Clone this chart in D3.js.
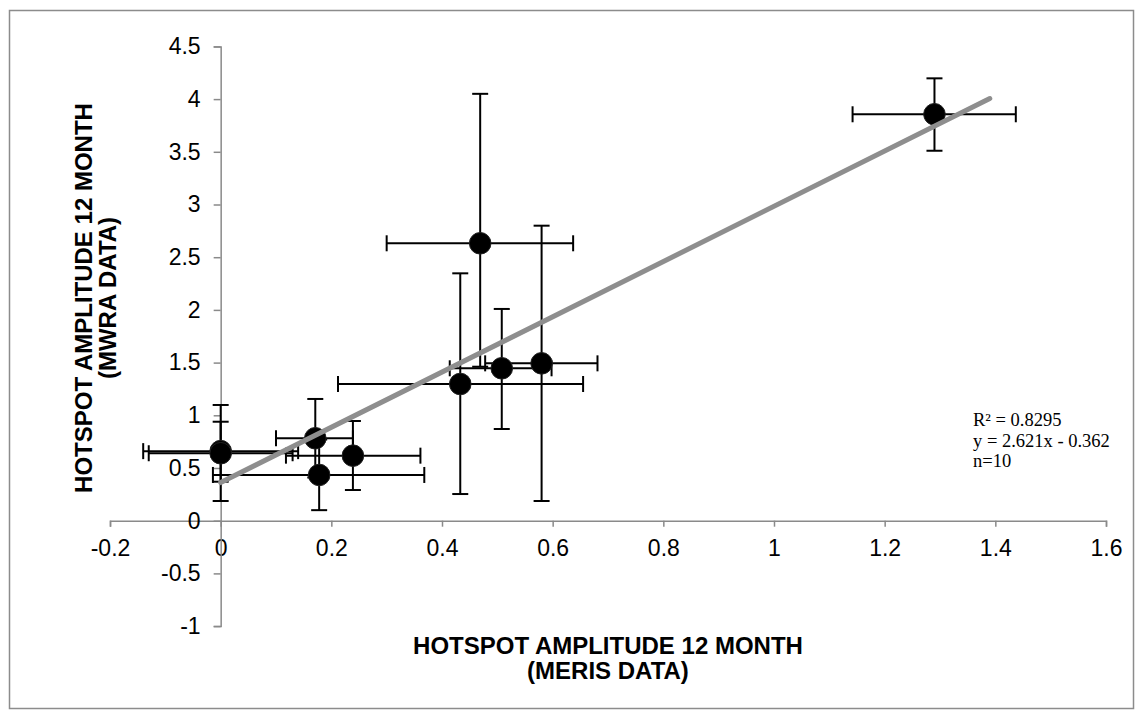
<!DOCTYPE html>
<html><head><meta charset="utf-8">
<script src="https://cdn.jsdelivr.net/npm/d3@7"></script>
<style>body{margin:0;background:#fff}svg{display:block}</style>
</head><body>
<script>
// Data
const pointNames = ["A","B","C","D","E","F1","F2","G","H","I"];
const xValues  = [1.290, 0.469, 0.433, 0.508, 0.580, 0.000, 0.000, 0.171, 0.239, 0.178];
const yValues  = [3.856, 2.632, 1.297, 1.446, 1.493, 0.660, 0.640, 0.782, 0.617, 0.434];
const xLow     = [1.142, 0.300, 0.212, 0.414, 0.478, -0.140, -0.130, 0.100, 0.118, -0.014];
const xHigh    = [1.437, 0.637, 0.655, 0.598, 0.681, 0.140, 0.130, 0.239, 0.361, 0.368];
const yLow     = [3.510, 1.461, 0.253, 0.870, 0.187, 0.187, 0.370, 0.410, 0.291, 0.100];
const yHigh    = [4.197, 4.050, 2.347, 2.009, 2.799, 1.098, 0.939, 1.155, 0.946, 0.770];
const xTicks = [-0.2, 0, 0.2, 0.4, 0.6, 0.8, 1, 1.2, 1.4, 1.6];
const yTicks = [-1, -0.5, 0, 0.5, 1, 1.5, 2, 2.5, 3, 3.5, 4, 4.5];
const trendSlope = 2.621, trendIntercept = 0.362;
const trendX = [0, 1.39];
const annotationLines = ["R\u00b2 = 0.8295", "y = 2.621x - 0.362", "n=10"];
const xTitleLines = ["HOTSPOT AMPLITUDE 12 MONTH", "(MERIS DATA)"];
const yTitleLines = ["HOTSPOT AMPLITUDE 12 MONTH", "(MWRA DATA)"];

const W = 1143, H = 719;
const svg = d3.select("body").append("svg").attr("width", W).attr("height", H);

// chart border
svg.append("rect").attr("x", 9.5).attr("y", 10.5).attr("width", 1124).attr("height", 698)
  .attr("fill", "#fff").attr("stroke", "#8c8c8c").attr("stroke-width", 1.5);

const x = d3.scaleLinear().domain([-0.2, 1.6]).range([110, 1106]);
const y = d3.scaleLinear().domain([-1, 4.5]).range([626.1, 46.4]);

const axisColor = "#8a8a8a";
const font = "'Liberation Sans', Arial, sans-serif";

// X axis at y=0
const gx = svg.append("g").attr("transform", `translate(0,${y(0)})`)
  .call(d3.axisBottom(x).tickValues(xTicks).tickSize(6).tickPadding(13).tickFormat(d => String(d)));
gx.select(".domain").attr("stroke", axisColor).attr("stroke-width", 1.5);
gx.selectAll(".tick line").attr("stroke", axisColor).attr("stroke-width", 1.5);
gx.selectAll(".tick text").attr("fill", "#000").style("font", `23px ${font}`);

// Y axis at x=0
const gy = svg.append("g").attr("transform", `translate(${x(0)},0)`)
  .call(d3.axisLeft(y).tickValues(yTicks).tickSize(7).tickPadding(13).tickFormat(d => String(d)));
gy.select(".domain").attr("stroke", axisColor).attr("stroke-width", 1.5);
gy.selectAll(".tick line").attr("stroke", axisColor).attr("stroke-width", 1.5);
gy.selectAll(".tick text").attr("fill", "#000").style("font", `23px ${font}`);

const pts = pointNames.map((n, i) => ({n, x: xValues[i], y: yValues[i], xl: xLow[i], xh: xHigh[i], yl: yLow[i], yh: yHigh[i]}));
const cap = 8;
const eb = svg.append("g").attr("stroke", "#000").attr("stroke-width", 2).attr("fill", "none");
pts.forEach(p => {
  eb.append("line").attr("x1", x(p.xl)).attr("x2", x(p.xh)).attr("y1", y(p.y)).attr("y2", y(p.y));
  eb.append("line").attr("x1", x(p.xl)).attr("x2", x(p.xl)).attr("y1", y(p.y) - cap).attr("y2", y(p.y) + cap);
  eb.append("line").attr("x1", x(p.xh)).attr("x2", x(p.xh)).attr("y1", y(p.y) - cap).attr("y2", y(p.y) + cap);
  eb.append("line").attr("x1", x(p.x)).attr("x2", x(p.x)).attr("y1", y(p.yl)).attr("y2", y(p.yh));
  eb.append("line").attr("x1", x(p.x) - cap).attr("x2", x(p.x) + cap).attr("y1", y(p.yl)).attr("y2", y(p.yl));
  eb.append("line").attr("x1", x(p.x) - cap).attr("x2", x(p.x) + cap).attr("y1", y(p.yh)).attr("y2", y(p.yh));
});

svg.append("g").selectAll("circle").data(pts).join("circle")
  .attr("cx", d => x(d.x)).attr("cy", d => y(d.y)).attr("r", 10.8)
  .attr("fill", "#000").attr("stroke", "#222").attr("stroke-width", 1);

// trendline
svg.append("line")
  .attr("x1", x(trendX[0])).attr("y1", y(trendSlope * trendX[0] + trendIntercept))
  .attr("x2", x(trendX[1])).attr("y2", y(trendSlope * trendX[1] + trendIntercept))
  .attr("stroke", "#8e8e8e").attr("stroke-width", 5).attr("stroke-linecap", "round");

// annotation
const ann = svg.append("text").style("font", "18.5px 'Liberation Serif', 'Times New Roman', serif").attr("fill", "#000");
annotationLines.forEach((t, i) => ann.append("tspan").attr("x", 973).attr("y", 426 + i * 20.5).text(t));

// titles
const xt = svg.append("text").attr("text-anchor", "middle")
  .style("font", `bold 24px ${font}`).attr("fill", "#000");
xTitleLines.forEach((t, i) => xt.append("tspan").attr("x", 608).attr("y", 654 + i * 24.5).text(t));

const yt = svg.append("text").attr("text-anchor", "middle")
  .attr("transform", "translate(0,298) rotate(-90)")
  .style("font", `bold 24px ${font}`).attr("fill", "#000");
yTitleLines.forEach((t, i) => yt.append("tspan").attr("x", 0).attr("y", 92 + i * 23.5).text(t));
</script>
</body></html>
